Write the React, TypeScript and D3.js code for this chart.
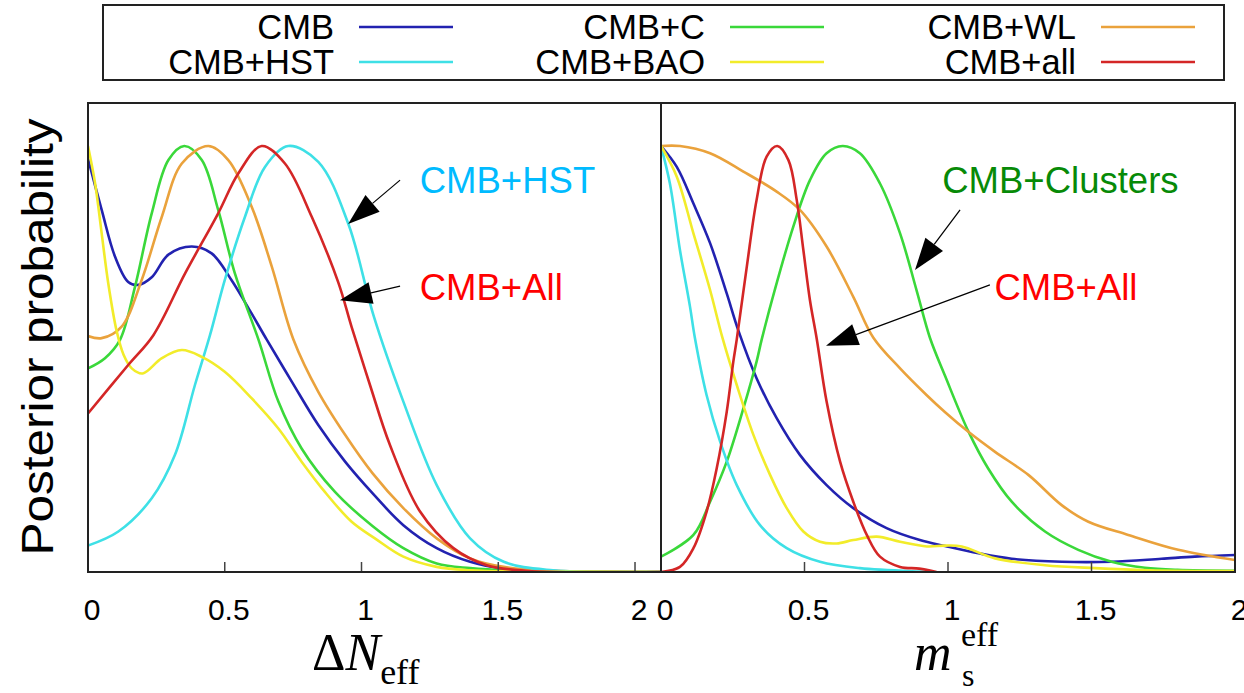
import * as d3 from 'd3';
import React from 'react';

const W = 1244;
const H = 693;

// [x, posterior] (x = ΔN_eff)
const dnCMB: [number, number][] = [[0, 0.97], [0.05, 0.85], [0.099, 0.74], [0.147, 0.681], [0.184, 0.674], [0.233, 0.692], [0.294, 0.745], [0.379, 0.764], [0.452, 0.748], [0.525, 0.685], [0.598, 0.607], [0.653, 0.546], [0.745, 0.447], [0.842, 0.345], [0.94, 0.259], [1.04, 0.185], [1.153, 0.11], [1.275, 0.056], [1.397, 0.024], [1.52, 0.008], [1.7, 0.002], [2.1, 0]];
const dnC: [number, number][] = [[0, 0.478], [0.062, 0.502], [0.117, 0.545], [0.172, 0.67], [0.233, 0.842], [0.294, 0.967], [0.352, 1.0], [0.416, 0.967], [0.476, 0.85], [0.537, 0.701], [0.623, 0.546], [0.696, 0.4], [0.781, 0.29], [0.903, 0.188], [1.04, 0.108], [1.153, 0.056], [1.275, 0.02], [1.397, 0.009], [1.6, 0.002], [2.1, 0]];
const dnWL: [number, number][] = [[0, 0.554], [0.05, 0.549], [0.123, 0.576], [0.196, 0.685], [0.27, 0.834], [0.343, 0.959], [0.44, 1.0], [0.513, 0.967], [0.598, 0.858], [0.672, 0.717], [0.751, 0.546], [0.842, 0.423], [0.94, 0.322], [1.04, 0.232], [1.153, 0.15], [1.275, 0.079], [1.397, 0.032], [1.52, 0.012], [1.7, 0.003], [2.1, 0]];
const dnHST: [number, number][] = [[0, 0.062], [0.111, 0.095], [0.233, 0.173], [0.318, 0.275], [0.391, 0.439], [0.446, 0.556], [0.5, 0.685], [0.574, 0.834], [0.647, 0.951], [0.732, 1.0], [0.842, 0.963], [0.952, 0.817], [1.045, 0.6], [1.153, 0.4], [1.275, 0.204], [1.397, 0.079], [1.52, 0.024], [1.7, 0.004], [2.1, 0]];
const dnBAO: [number, number][] = [[0, 1.0], [0.026, 0.912], [0.05, 0.795], [0.074, 0.678], [0.105, 0.565], [0.13, 0.51], [0.16, 0.478], [0.2, 0.466], [0.27, 0.502], [0.343, 0.521], [0.416, 0.505], [0.5, 0.47], [0.598, 0.408], [0.696, 0.337], [0.781, 0.259], [0.866, 0.188], [0.964, 0.118], [1.049, 0.079], [1.153, 0.036], [1.275, 0.012], [1.397, 0.004], [1.6, 0.001], [2.1, 0]];
const dnAll: [number, number][] = [[0, 0.372], [0.147, 0.486], [0.239, 0.556], [0.355, 0.701], [0.476, 0.842], [0.55, 0.936], [0.635, 1.0], [0.72, 0.959], [0.818, 0.834], [0.915, 0.68], [0.964, 0.575], [1.031, 0.439], [1.104, 0.298], [1.214, 0.142], [1.336, 0.056], [1.458, 0.016], [1.6, 0.003], [2.1, 0]];

// right panel (x = m_s^eff)
const msCMB: [number, number][] = [[0, 1.0], [0.055, 0.951], [0.113, 0.865], [0.171, 0.772], [0.229, 0.654], [0.27, 0.566], [0.333, 0.455], [0.403, 0.361], [0.484, 0.275], [0.577, 0.204], [0.67, 0.15], [0.786, 0.103], [0.902, 0.075], [0.99, 0.061], [1.106, 0.044], [1.222, 0.031], [1.396, 0.024], [1.57, 0.024], [1.744, 0.031], [1.86, 0.036], [2.0, 0.04]];
const msC: [number, number][] = [[0, 0.036], [0.113, 0.087], [0.171, 0.165], [0.229, 0.259], [0.287, 0.384], [0.333, 0.494], [0.351, 0.546], [0.403, 0.678], [0.461, 0.811], [0.519, 0.92], [0.577, 0.983], [0.633, 1.0], [0.693, 0.983], [0.763, 0.912], [0.833, 0.795], [0.891, 0.66], [0.937, 0.55], [0.99, 0.46], [1.071, 0.33], [1.14, 0.243], [1.222, 0.165], [1.338, 0.095], [1.454, 0.052], [1.57, 0.024], [1.686, 0.01], [1.8, 0.005], [2.0, 0.003]];
const msWL: [number, number][] = [[0, 1.0], [0.066, 1.0], [0.171, 0.983], [0.287, 0.94], [0.403, 0.893], [0.484, 0.85], [0.577, 0.764], [0.67, 0.646], [0.74, 0.55], [0.833, 0.478], [0.926, 0.415], [0.99, 0.375], [1.071, 0.329], [1.164, 0.282], [1.28, 0.228], [1.396, 0.157], [1.489, 0.118], [1.628, 0.087], [1.802, 0.052], [2.0, 0.028]];
const msHST: [number, number][] = [[0, 1.0], [0.031, 0.912], [0.066, 0.756], [0.101, 0.623], [0.118, 0.55], [0.159, 0.415], [0.206, 0.306], [0.264, 0.204], [0.345, 0.11], [0.438, 0.056], [0.554, 0.024], [0.693, 0.009], [0.9, 0.001], [0.95, 0]];
const msBAO: [number, number][] = [[0, 1.0], [0.055, 0.928], [0.113, 0.795], [0.171, 0.662], [0.214, 0.55], [0.264, 0.439], [0.322, 0.322], [0.38, 0.228], [0.438, 0.15], [0.496, 0.095], [0.554, 0.071], [0.612, 0.067], [0.67, 0.075], [0.752, 0.083], [0.833, 0.071], [0.926, 0.06], [0.99, 0.062], [1.048, 0.06], [1.164, 0.032], [1.338, 0.016], [1.512, 0.009], [1.7, 0.004], [2.0, 0.002]];
const msAll: [number, number][] = [[0, 0], [0.066, 0.012], [0.113, 0.056], [0.159, 0.142], [0.194, 0.243], [0.229, 0.376], [0.252, 0.494], [0.264, 0.546], [0.299, 0.717], [0.333, 0.873], [0.368, 0.975], [0.405, 1.0], [0.444, 0.967], [0.473, 0.873], [0.496, 0.756], [0.519, 0.638], [0.543, 0.546], [0.577, 0.4], [0.624, 0.259], [0.67, 0.165], [0.717, 0.087], [0.763, 0.036], [0.833, 0.012], [0.9, 0.008], [0.96, 0]];

const legendOrder = ['CMB', 'CMB+HST', 'CMB+C', 'CMB+BAO', 'CMB+WL', 'CMB+all'];
const drawOrder = ['CMB', 'CMB+C', 'CMB+WL', 'CMB+HST', 'CMB+BAO', 'CMB+all'];
const colors: Record<string, string> = {
  'CMB': '#2222b0',
  'CMB+C': '#3ad83a',
  'CMB+WL': '#eaa23c',
  'CMB+HST': '#3ee0e6',
  'CMB+BAO': '#f2ec2a',
  'CMB+all': '#d42626',
};
const leftSeries: Record<string, [number, number][]> = { 'CMB': dnCMB, 'CMB+C': dnC, 'CMB+WL': dnWL, 'CMB+HST': dnHST, 'CMB+BAO': dnBAO, 'CMB+all': dnAll };
const rightSeries: Record<string, [number, number][]> = { 'CMB': msCMB, 'CMB+C': msC, 'CMB+WL': msWL, 'CMB+HST': msHST, 'CMB+BAO': msBAO, 'CMB+all': msAll };

const tickValues = [0, 0.5, 1, 1.5, 2];
const tickLabels = ['0', '0.5', '1', '1.5', '2'];

// annotations in data units: [text, color, textX, textY, fromX, fromY, tipX, tipY]
const leftNotes: [string, string, number, number, number, number, number, number][] = [
  ['CMB+HST', '#00bbff', 1.213, 0.89, 1.141, 0.92, 0.951, 0.817],
  ['CMB+All', '#ff0000', 1.213, 0.638, 1.141, 0.671, 0.921, 0.638],
];
const rightNotes: [string, string, number, number, number, number, number, number][] = [
  ['CMB+Clusters', '#078a07', 0.98, 0.89, 1.042, 0.85, 0.885, 0.709],
  ['CMB+All', '#ff0000', 1.162, 0.638, 1.146, 0.674, 0.575, 0.531],
];

const top = 103;
const bottom = 572;
const sans = 'Liberation Sans, Arial, Helvetica, sans-serif';
const serif = 'Liberation Serif, Times New Roman, serif';

const y = d3.scaleLinear().domain([0, 1.101]).range([bottom, top]);
const xLeft = d3.scaleLinear().domain([0, 2.095]).range([88, 661]);
const xRight = d3.scaleLinear().domain([0, 2]).range([661, 1235]);

function arrow(x1: number, y1: number, x2: number, y2: number) {
  const dx = x2 - x1, dy = y2 - y1;
  const len = Math.hypot(dx, dy);
  const ux = dx / len, uy = dy / len;
  const L = 32, hw = 11;
  const bx = x2 - ux * L, by = y2 - uy * L;
  const pts = [[x2, y2], [bx - uy * hw, by + ux * hw], [bx + uy * hw, by - ux * hw]];
  return { bx, by, pts: pts.map(p => p.join(',')).join(' ') };
}

function Panel({ x, series, notes, id, ticks }: { x: d3.ScaleLinear<number, number>; series: Record<string, [number, number][]>; notes: typeof leftNotes; id: string; ticks: number[] }) {
  const line = d3.line<[number, number]>().x(d => x(d[0])).y(d => y(d[1])).curve(d3.curveCatmullRom.alpha(0.5));
  const [x0, x1] = x.range();
  return (
    <g>
      <defs>
        <clipPath id={id}>
          <rect x={x0} y={top} width={x1 - x0} height={bottom - top} />
        </clipPath>
      </defs>
      <g clipPath={`url(#${id})`}>
        {drawOrder.map(k => (
          <path key={k} d={line(series[k]) || ''} fill="none" stroke={colors[k]} strokeWidth={2.6} strokeLinejoin="round" />
        ))}
      </g>
      {ticks.map(t => (
        <line key={t} x1={x(t)} x2={x(t)} y1={bottom} y2={bottom - 10} stroke="#444" strokeWidth={1.5} />
      ))}
      {notes.map(([label, color, tx, ty, fx, fy, px, py]) => {
        const a = arrow(x(fx), y(fy), x(px), y(py));
        return (
          <g key={label}>
            <line x1={x(fx)} y1={y(fy)} x2={a.bx} y2={a.by} stroke="#000" strokeWidth={1.2} />
            <polygon points={a.pts} fill="#000" />
            <text x={x(tx)} y={y(ty)} fill={color} fontSize={36.5} fontFamily={sans}>{label}</text>
          </g>
        );
      })}
      <rect x={x0} y={top} width={x1 - x0} height={bottom - top} fill="none" stroke="#222" strokeWidth={2} />
    </g>
  );
}

export default function App() {
  return (
    <div style={{ position: 'absolute', left: 0, top: 0, background: '#fff' }}>
      <svg width={W} height={H} style={{ display: 'block' }}>
        <rect width={W} height={H} fill="#fff" />
        {/* legend */}
        <rect x={103} y={5} width={1121} height={75} fill="#fff" stroke="#222" strokeWidth={2} />
        {legendOrder.map((k, i) => {
          const col = Math.floor(i / 2), row = i % 2;
          const tx = 334 + col * 371;
          const ly = 27 + row * 35;
          return (
            <g key={k}>
              <text x={tx} y={ly + 12} textAnchor="end" fontSize={34.5} fontFamily={sans}>{k}</text>
              <line x1={tx + 25} x2={tx + 119} y1={ly} y2={ly} stroke={colors[k]} strokeWidth={2.6} />
            </g>
          );
        })}
        <Panel x={xLeft} series={leftSeries} notes={leftNotes} id="clipL" ticks={[0.5, 1, 1.5, 2]} />
        <Panel x={xRight} series={rightSeries} notes={rightNotes} id="clipR" ticks={[0.5, 1, 1.5]} />
        {/* tick labels */}
        {tickValues.map((t, i) => (
          <text key={'l' + t} x={xLeft(t) + 4} y={620} textAnchor="middle" fontSize={30} fontFamily={sans}>{tickLabels[i]}</text>
        ))}
        {tickValues.map((t, i) => (
          <text key={'r' + t} x={xRight(t) + 4} y={620} textAnchor="middle" fontSize={30} fontFamily={sans}>{tickLabels[i]}</text>
        ))}
        {/* y label */}
        <text transform="translate(53,337) rotate(-90)" textAnchor="middle" fontSize={44} fontFamily={sans} textLength={437} lengthAdjust="spacingAndGlyphs">Posterior probability</text>
        {/* x labels */}
        <text y={670} fontFamily={serif} fontSize={52}>
          <tspan x={312}>Δ</tspan>
          <tspan fontStyle="italic">N</tspan>
          <tspan fontSize={36} dy={14}>eff</tspan>
        </text>
        <text y={670} fontFamily={serif} fontSize={52}>
          <tspan x={914} fontStyle="italic">m</tspan>
        </text>
        <text x={961} y={646} fontFamily={serif} fontSize={34}>eff</text>
        <text x={962} y={686} fontFamily={serif} fontSize={32}>s</text>
      </svg>
    </div>
  );
}
